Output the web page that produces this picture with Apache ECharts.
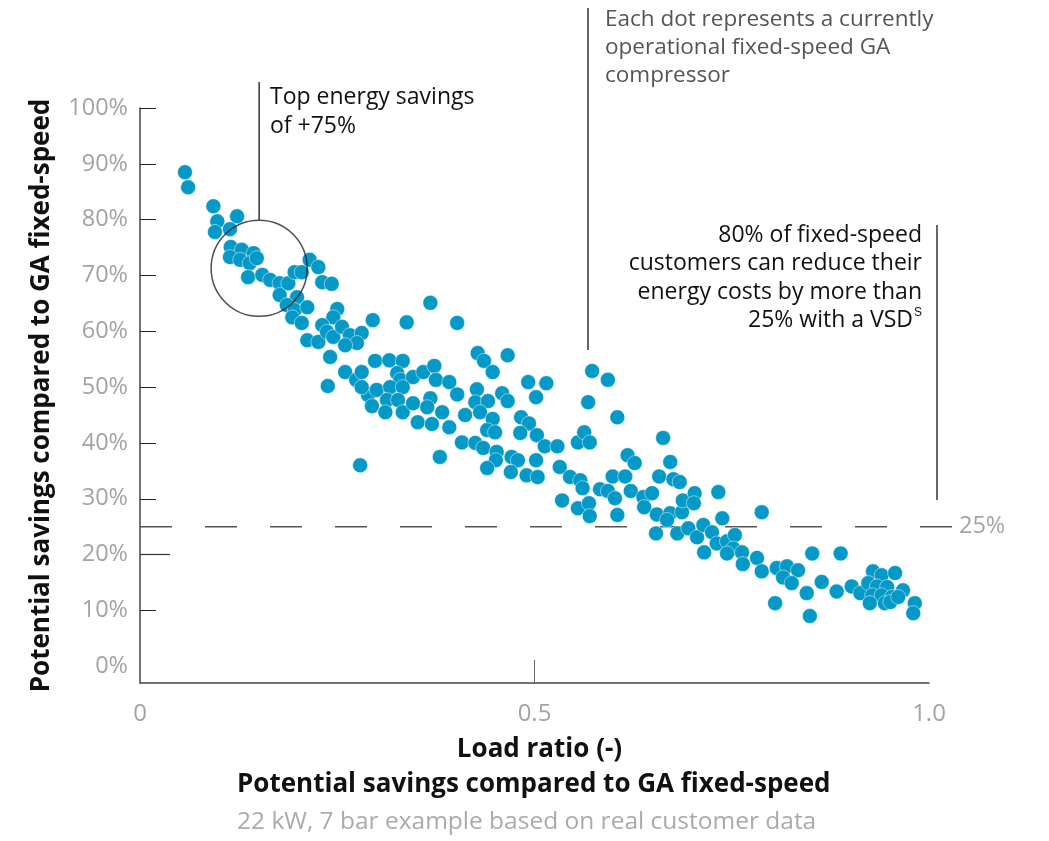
<!DOCTYPE html>
<html>
<head>
<meta charset="utf-8">
<script src="https://cdn.jsdelivr.net/npm/echarts@6/dist/echarts.min.js"></script>
<style>
  html, body { margin: 0; padding: 0; background: #fff; }
  #chart { width: 1049px; height: 841px; }
</style>
</head>
<body>
<div id="chart"></div>
<script>
// load ratio (-) and potential savings (%) per compressor
const loadRatio = [
  0.057, 0.061, 0.093, 0.098, 0.123, 0.095, 0.114, 0.115, 0.129, 0.144, 0.114, 0.127, 0.139, 0.148, 0.137,
  0.155, 0.165, 0.177, 0.188, 0.177, 0.196, 0.205, 0.215, 0.226, 0.231, 0.243, 0.199, 0.186, 0.196, 0.212,
  0.193, 0.205, 0.250, 0.245, 0.231, 0.295, 0.212, 0.226, 0.237, 0.245, 0.256, 0.266, 0.281, 0.275, 0.260,
  0.241, 0.238, 0.260, 0.274, 0.289,
  0.368, 0.338, 0.402, 0.428, 0.436, 0.466, 0.447, 0.298, 0.316, 0.333, 0.281, 0.326, 0.330, 0.346, 0.359,
  0.373, 0.375, 0.392, 0.300, 0.317, 0.333, 0.281, 0.402, 0.427, 0.492, 0.515, 0.502, 0.573, 0.593, 0.568,
  0.605, 0.459, 0.466, 0.425, 0.441, 0.313, 0.327, 0.368, 0.294, 0.311, 0.333, 0.346, 0.364, 0.383, 0.352,
  0.370, 0.392, 0.412, 0.431, 0.447, 0.483, 0.493, 0.482, 0.503, 0.513, 0.529, 0.555, 0.563, 0.570, 0.408,
  0.425, 0.440, 0.450, 0.435, 0.452, 0.451, 0.471, 0.479, 0.502, 0.380, 0.279, 0.440, 0.532,
  0.663, 0.672, 0.618, 0.627, 0.470, 0.490, 0.504, 0.545, 0.558, 0.561, 0.535, 0.555, 0.569, 0.570, 0.583,
  0.593, 0.602, 0.605, 0.599, 0.615, 0.622, 0.638, 0.649, 0.639, 0.655, 0.658, 0.676, 0.684, 0.672, 0.687,
  0.688, 0.703, 0.702, 0.668, 0.654, 0.681, 0.695, 0.706, 0.714, 0.725, 0.715, 0.731, 0.744, 0.754, 0.752,
  0.763, 0.782, 0.733, 0.738, 0.788,
  0.744, 0.764, 0.788, 0.807, 0.820, 0.834, 0.815, 0.826, 0.805, 0.845, 0.849, 0.852, 0.888, 0.864, 0.883,
  0.902, 0.913, 0.929, 0.940, 0.957, 0.923, 0.934, 0.947, 0.928, 0.940, 0.953, 0.925, 0.944, 0.951, 0.967,
  0.961, 0.982, 0.980
];
const savings = [
  88.5, 85.8, 82.4, 79.7, 80.6, 77.8, 78.3, 75.1, 74.6, 74.0, 73.3, 72.8, 72.2, 73.1, 69.7,
  70.1, 69.2, 68.6, 68.6, 66.5, 70.6, 70.6, 72.8, 71.5, 68.8, 68.5, 66.1, 64.7, 63.8, 64.3,
  62.5, 61.5, 64.0, 62.5, 61.1, 62.0, 58.4, 58.1, 59.9, 59.0, 60.8, 59.3, 59.7, 57.9, 57.5,
  55.4, 50.2, 52.7, 51.3, 48.6,
  65.1, 61.6, 61.5, 56.1, 54.7, 55.7, 52.7, 54.7, 54.8, 54.7, 52.7, 52.5, 51.3, 51.8, 52.7,
  53.8, 51.3, 50.9, 49.5, 50.0, 50.0, 50.0, 48.7, 49.6, 50.9, 50.7, 48.2, 52.9, 51.3, 47.3,
  44.6, 48.9, 47.5, 47.3, 47.5, 47.7, 47.7, 48.0, 46.6, 45.5, 45.5, 47.1, 46.4, 45.5, 43.7,
  43.4, 42.8, 45.0, 45.5, 44.3, 44.6, 43.5, 41.8, 41.4, 39.4, 39.4, 40.1, 41.9, 40.1, 40.1,
  40.0, 42.3, 41.9, 39.1, 38.4, 36.9, 37.5, 36.9, 36.9, 37.5, 36.0, 35.5, 35.7,
  40.9, 36.6, 37.8, 36.4, 34.8, 34.2, 33.9, 33.9, 33.3, 31.9, 29.7, 28.3, 29.2, 26.9, 31.7,
  31.4, 30.1, 27.1, 34.0, 34.0, 31.4, 30.3, 31.0, 28.5, 27.2, 34.0, 33.5, 33.0, 27.4, 27.6,
  29.7, 31.0, 29.2, 26.2, 23.8, 23.8, 24.7, 23.1, 25.3, 24.0, 20.4, 22.0, 22.4, 23.5, 21.1,
  20.4, 19.4, 31.2, 26.5, 27.6,
  20.2, 18.3, 17.0, 17.6, 17.9, 17.2, 15.9, 14.9, 11.3, 13.1, 9.0, 20.2, 20.2, 15.1, 13.4,
  14.3, 13.1, 17.0, 16.3, 16.7, 14.9, 14.3, 14.2, 12.7, 12.7, 12.4, 11.3, 11.3, 11.5, 13.6,
  12.4, 11.3, 9.5
];
const yLabelValues = [0, 10, 20, 30, 40, 50, 60, 70, 80, 90, 100];
const yTickValues = [10, 20, 30, 40, 50, 60, 70, 80, 90, 100];
const xLabelValues = [0, 0.5, 1];
const xTickValues = [0.5];
const threshold = 25;
const topSavingsPoint = [0.151, 71.3];

const chart = echarts.init(document.getElementById('chart'));
const font = 'Open Sans';

const points = loadRatio.map((x, i) => [x, savings[i]]);

chart.setOption({
  animation: false,
  textStyle: { fontFamily: font },
  title: {
    left: 232,
    top: 767,
    text: 'Potential savings compared to GA fixed-speed',
    textStyle: { fontFamily: font, fontSize: 26, fontWeight: 'bold', color: '#111' },
    subtext: '22 kW, 7 bar example based on real customer data',
    subtextStyle: { fontFamily: font, fontSize: 24.5, color: '#aaa' },
    itemGap: 12
  },
  grid: { left: 140, right: 120, top: 108, bottom: 158 },
  xAxis: {
    type: 'value',
    min: 0,
    max: 1,
    name: 'Load ratio (-)',
    nameLocation: 'middle',
    nameGap: 54,
    nameTextStyle: { fontFamily: font, fontSize: 26, fontWeight: 'bold', color: '#111', padding: [0, 0, 0, 10] },
    axisLine: { onZero: false, lineStyle: { color: '#444', width: 1.5 } },
    axisTick: { customValues: xTickValues, inside: true, length: 23, lineStyle: { color: '#666' } },
    axisLabel: {
      customValues: xLabelValues,
      formatter: v => (v === 0 ? '0' : v.toFixed(1)),
      color: '#a3a3a3',
      fontSize: 24,
      margin: 19
    },
    splitLine: { show: false }
  },
  yAxis: {
    type: 'value',
    min: -3,
    max: 100,
    name: 'Potential savings compared to GA fixed-speed',
    nameLocation: 'middle',
    nameGap: 85,
    nameTextStyle: { fontFamily: font, fontSize: 26, fontWeight: 'bold', color: '#111' },
    axisLine: { show: true, onZero: false, lineStyle: { color: '#444', width: 1.5 } },
    axisTick: { show: true, customValues: yTickValues, inside: true, length: 16, lineStyle: { color: '#222' } },
    axisLabel: {
      customValues: yLabelValues,
      formatter: v => v + '%',
      color: '#a3a3a3',
      fontSize: 23.5,
      margin: 12
    },
    splitLine: { show: false }
  },
  series: [
    {
      type: 'scatter',
      data: points,
      symbolSize: 15,
      itemStyle: { color: '#0499c6', borderColor: 'rgba(255,255,255,0.6)', borderWidth: 0.8, opacity: 1 },
      z: 2,
      markLine: {
        silent: true,
        symbol: 'none',
        label: { show: false },
        lineStyle: { type: 'solid', color: '#333', width: 1.2 },
        data: [[{ coord: [0, 20] }, { coord: [0.038, 20] }]]
      }
    },
    {
      type: 'scatter',
      data: [topSavingsPoint],
      symbolSize: 96,
      silent: true,
      itemStyle: { color: 'rgba(0,0,0,0)', borderColor: '#222', borderWidth: 1.5 },
      z: 5
    }
  ]
});

// annotations placed from the chart's own scales
const p0 = chart.convertToPixel({ gridIndex: 0 }, [0, threshold]);
const p1 = chart.convertToPixel({ gridIndex: 0 }, [1, threshold]);
const c = chart.convertToPixel({ gridIndex: 0 }, topSavingsPoint);
const lineStyle = { stroke: '#333', lineWidth: 1.5 };

chart.setOption({
  graphic: [
    {
      type: 'line',
      shape: { x1: p0[0], y1: p0[1], x2: p1[0] + 26, y2: p1[1] },
      style: { stroke: '#555', lineWidth: 1.5, lineDash: [32, 33] },
      z: 1
    },
    {
      type: 'text',
      x: p1[0] + 30,
      y: p1[1],
      style: { text: threshold + '%', fill: '#a3a3a3', font: '23.5px "Open Sans"', verticalAlign: 'middle' }
    },
    {
      type: 'line',
      shape: { x1: c[0], y1: 82, x2: c[0], y2: c[1] - 48 },
      style: lineStyle
    },
    {
      type: 'text',
      x: 270,
      y: 83,
      style: {
        text: 'Top energy savings\nof +75%',
        fill: '#111',
        font: '23px "Open Sans"',
        lineHeight: 29
      }
    },
    {
      type: 'line',
      shape: { x1: 588, y1: 8, x2: 588, y2: 350 },
      style: lineStyle
    },
    {
      type: 'text',
      x: 605,
      y: 6,
      style: {
        text: 'Each dot represents a currently\noperational fixed-speed GA\ncompressor',
        fill: '#555',
        font: '22.5px "Open Sans"',
        lineHeight: 28
      }
    },
    {
      type: 'line',
      shape: { x1: 937, y1: 225, x2: 937, y2: 500 },
      style: lineStyle
    },
    {
      type: 'text',
      x: 922,
      y: 221,
      style: {
        text: '80% of fixed-speed\ncustomers can reduce their\nenergy costs by more than\n25% with a VSD{sup|S}',
        fill: '#111',
        font: '23px "Open Sans"',
        lineHeight: 28.5,
        align: 'right',
        rich: {
          sup: { fontSize: 12, verticalAlign: 'top', fill: '#111', padding: [0, 0, 10, 1] }
        }
      }
    }
  ]
});
</script>
</body>
</html>
